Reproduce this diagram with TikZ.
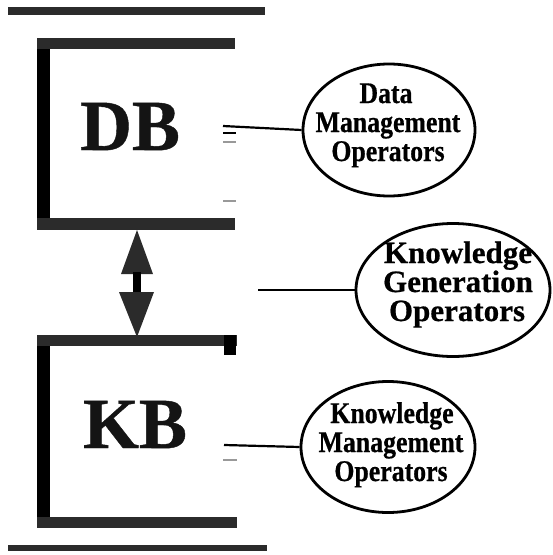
\documentclass[tikz,border=0pt]{standalone}
\usepackage{fontspec}
\setmainfont{Liberation Serif}
\newfontfamily\condfont[FakeStretch=0.86,FakeBold=0.6]{Liberation Serif}
\newfontfamily\wideboldfont[FakeBold=0.6]{Liberation Serif}
\usetikzlibrary{shapes.geometric}
\definecolor{stip}{gray}{0.17}
\tikzset{
  oval/.style={ellipse, draw=black, line width=2.8pt, fill=white, inner sep=0pt},
  bigtext/.style={anchor=base, inner sep=0pt, text=black!92, font=\wideboldfont\bfseries\fontsize{72}{72}\selectfont},
  ctext/.style={anchor=base, inner sep=0pt, text height=20pt, text depth=4pt, font=\condfont\bfseries\fontsize{30}{28}\selectfont},
  gtext/.style={anchor=base, inner sep=0pt, text height=20pt, text depth=4pt, font=\wideboldfont\bfseries\fontsize{31}{28}\selectfont},
  conn/.style={draw=black, line width=2.2pt},
  tickmark/.style={draw=black, line width=2.2pt},
  faint/.style={draw=black!40, line width=1.3pt}
}
\begin{document}
\begin{tikzpicture}[x=1pt,y=-1pt]
\useasboundingbox (0,0) rectangle (553,555);
% top and bottom rules
\fill[stip] (8,7) rectangle (265,15);
\fill[stip] (8,545) rectangle (267,551);
% DB box
\fill[black] (37,38) rectangle (50,230);
\fill[stip] (37,38) rectangle (235,49);
\fill[stip] (37,218) rectangle (235,230);
% KB box
\fill[black] (37,335) rectangle (50,528);
\fill[stip] (37,335) rectangle (237,346);
\fill[stip] (37,517) rectangle (237,528);
\fill[black] (224,335) rectangle (236,355);
% double arrow
\fill[stip] (121,274) -- (153,274) -- (137,230) -- cycle;
\fill[black] (133,272) rectangle (141,293);
\fill[stip] (119,292) -- (154,292) -- (137,337) -- cycle;
% labels in boxes
\node[bigtext] (db) at (130,150) {DB};
\node[bigtext] (kb) at (135,448) {KB};
% ellipses
\node[oval, minimum width=172, minimum height=132] (dm) at (389,130) {};
\node[oval, minimum width=194, minimum height=133] (kg) at (453,290) {};
\node[oval, minimum width=174, minimum height=131] (km) at (388,447) {};
% ellipse texts
\node[ctext] (dm1) at (386,103) {Data};
\node[ctext] (dm2) at (388,132) {Management};
\node[ctext] (dm3) at (388,161) {Operators};
\node[gtext] (kg1) at (458,263) {Knowledge};
\node[gtext] (kg2) at (458,292) {Generation};
\node[gtext] (kg3) at (457,321) {Operators};
\node[ctext] (km1) at (392,423) {Knowledge};
\node[ctext] (km2) at (391,452) {Management};
\node[ctext] (km3) at (391,481) {Operators};
% connector anchors
\coordinate (dbout) at (223,126);
\coordinate (kgout) at (258,290);
\coordinate (kmout) at (224,445);
\draw[conn] (dbout) -- (dm.west);
\draw[conn, line width=1.8pt] (kgout) -- (kg.west);
\draw[conn] (kmout) -- (km.west);
% small tick marks
\draw[tickmark] (223,133) -- (236,133);
\draw[faint] (223,142) -- (236,142);
\draw[faint] (223,201) -- (236,201);
\draw[faint] (223,460) -- (237,460);
\end{tikzpicture}
\end{document}
